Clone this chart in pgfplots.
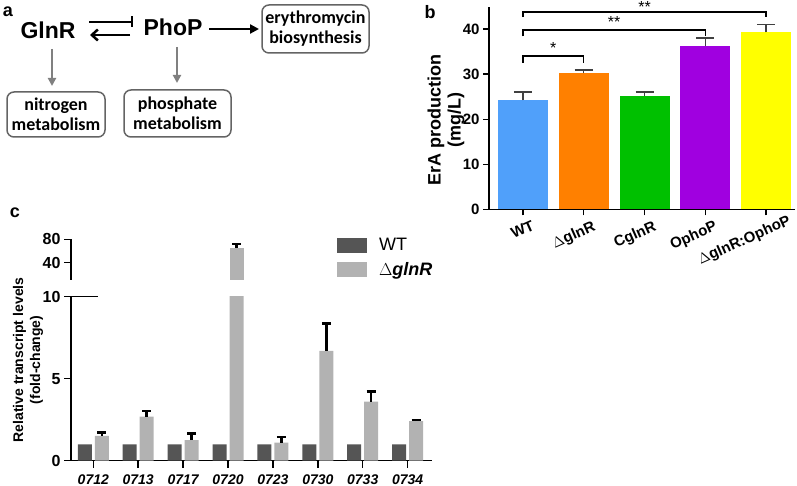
\documentclass[border=0pt]{standalone}
\usepackage{fontspec}
\setmainfont{Liberation Sans}
\newfontfamily\calfont{Carlito}
\usepackage{pgfplots}
\pgfplotsset{compat=1.18}
\usetikzlibrary{arrows.meta}
\definecolor{cWT}{RGB}{80,160,250}
\definecolor{cGl}{RGB}{255,128,0}
\definecolor{cCg}{RGB}{0,192,0}
\definecolor{cOp}{RGB}{160,0,224}
\definecolor{cGO}{RGB}{255,255,0}
\definecolor{cDk}{RGB}{85,85,85}
\definecolor{cLt}{RGB}{178,178,178}
\definecolor{boxc}{RGB}{100,100,100}
\newcommand{\fs}[2]{\fontsize{#1}{#2}\selectfont}
\begin{document}
\begin{tikzpicture}
\useasboundingbox (0,0) rectangle (797pt,486pt);
% ---------------- panel a ----------------
\node[font=\bfseries\fs{18}{20}] at (8pt,474pt) {a};
\node[font=\bfseries\fs{23}{25}] at (48pt,456pt) {GlnR};
\node[font=\bfseries\fs{23}{25}] at (173pt,459pt) {PhoP};
\draw[line width=2.5pt] (89pt,464pt) -- (132pt,464pt);
\draw[line width=2.5pt] (132pt,469.5pt) -- (132pt,458.5pt);
\draw[line width=2.5pt,-{Straight Barb[length=6pt,width=11pt]}] (130pt,451pt) -- (90pt,451pt);
\draw[line width=2.5pt,-{Triangle[length=9pt,width=9pt]}] (209pt,457pt) -- (259pt,457pt);
\draw[black!50,line width=2pt,-{Triangle[length=8pt,width=8pt]}] (52pt,437pt) -- (52pt,400pt);
\draw[black!50,line width=2pt,-{Triangle[length=8pt,width=8pt]}] (177pt,439pt) -- (177pt,403pt);
\draw[rounded corners=7pt,line width=1.5pt,draw=boxc] (262pt,433pt) rectangle (369pt,481pt);
\node[align=center,font=\calfont\bfseries\fs{18}{20}] at (315.5pt,457pt) {erythromycin\\biosynthesis};
\draw[rounded corners=7pt,line width=1.5pt,draw=boxc] (7pt,349pt) rectangle (105pt,394pt);
\node[align=center,font=\calfont\bfseries\fs{18}{20}] at (56pt,371.5pt) {nitrogen\\metabolism};
\draw[rounded corners=7pt,line width=1.5pt,draw=boxc] (124pt,349pt) rectangle (231pt,396pt);
\node[align=center,font=\calfont\bfseries\fs{18}{20}] at (177.5pt,372.5pt) {phosphate\\metabolism};
% ---------------- panel b ----------------
\node[font=\bfseries\fs{18}{20}] at (430pt,474pt) {b};
\node[rotate=90,align=center,font=\bfseries\fs{18}{20}] at (446pt,366pt) {ErA production\\(mg/L)};
\begin{axis}[
  at={(489pt,276.7pt)}, anchor=south west, scale only axis,
  width=306pt, height=202.6pt,
  xmin=-0.557, xmax=4.475, ymin=0, ymax=45,
  axis x line*=bottom, axis y line*=left,
  axis line style={line width=1.5pt},
  tick style={line width=1.5pt,black}, major tick length=6pt, tick align=outside,
  xtick={0,1,2,3,4},
  xticklabels={WT,$\Delta$glnR,CglnR,OphoP,$\Delta$glnR:OphoP\hspace*{-14pt}},
  xticklabel style={font=\bfseries\fs{15}{16},rotate=24,anchor=north east,xshift=9pt,yshift=-4pt},
  ytick={0,10,20,30,40},
  yticklabel style={font=\bfseries\fs{15}{16}},
  /pgf/number format/assume math mode=true,
  ybar, bar width=50pt, clip=false,
  error bars/y dir=plus, error bars/y explicit,
  error bars/error bar style={draw=black!75,line width=1.5pt},
  error bars/error mark options={rotate=90,draw=black!75,line width=1.5pt,mark size=9pt},
]
\addplot[fill=cWT,draw=none,bar shift=0pt] coordinates {(0,24.2) +- (0,1.8)};
\addplot[fill=cGl,draw=none,bar shift=0pt] coordinates {(1,30.2) +- (0,0.7)};
\addplot[fill=cCg,draw=none,bar shift=0pt] coordinates {(2,25.2) +- (0,0.8)};
\addplot[fill=cOp,draw=none,bar shift=0pt] coordinates {(3,36.2) +- (0,1.8)};
\addplot[fill=cGO,draw=none,bar shift=0pt] coordinates {(4,39.3) +- (0,1.7)};
\draw[line width=1.5pt] (axis cs:0,32.6) -- (axis cs:0,34.0) -- (axis cs:1,34.0) -- (axis cs:1,32.6);
\node[font=\fs{16}{16},inner sep=0pt] at (axis cs:0.5,35.9) {*};
\draw[line width=1.5pt] (axis cs:0,38.4) -- (axis cs:0,39.8) -- (axis cs:3,39.8) -- (axis cs:3,38.4);
\node[font=\fs{16}{16},inner sep=0pt] at (axis cs:1.5,41.7) {**};
\draw[line width=1.5pt] (axis cs:0,42.7) -- (axis cs:0,43.8) -- (axis cs:4,43.8) -- (axis cs:4,42.7);
\node[font=\fs{16}{16},inner sep=0pt] at (axis cs:2,45.0) {**};
\end{axis}
% ---------------- panel c ----------------
\node[font=\bfseries\fs{18}{20}] at (15pt,273pt) {c};
\node[rotate=90,align=center,font=\bfseries\fs{14}{17}] at (28pt,126pt) {Relative transcript levels\\(fold-change)};
\begin{axis}[
  at={(71pt,25.3pt)}, anchor=south west, scale only axis,
  width=360.7pt, height=164pt,
  xmin=-0.497, xmax=7.536, ymin=0, ymax=10,
  axis x line*=bottom, axis y line*=left,
  axis line style={line width=1.5pt},
  tick style={line width=1.5pt,black}, major tick length=7pt, tick align=outside,
  xtick={0,1,2,3,4,5,6,7},
  xticklabels={0712,0713,0717,0720,0723,0730,0733,0734},
  xticklabel style={font=\bfseries\itshape\fs{14}{15},yshift=-3pt},
  ytick={0,5,10},
  yticklabel style={font=\bfseries\fs{16}{17}},
  /pgf/number format/assume math mode=true,
  ybar, bar width=14pt,
  legend style={at={(rel axis cs:0.737,1.37)},anchor=north west,draw=none,fill=none,
    font=\fs{18}{20},row sep=6pt,inner sep=0pt},
  legend cell align=left,
]
\addplot[fill=cDk,draw=none,bar shift=-8.5pt,
  legend image code/.code={\fill[cDk] (0pt,-7.5pt) rectangle (30pt,7.5pt);}]
  coordinates {(0,1) (1,1) (2,1) (3,1) (4,1) (5,1) (6,1) (7,1)};
\addlegendentry{\hspace*{10pt}WT}
\addplot[fill=cLt,draw=none,bar shift=8.5pt,
  legend image code/.code={\fill[cLt] (0pt,-7.5pt) rectangle (30pt,7.5pt);},
  error bars/.cd, y dir=plus, y explicit,
  error bar style={draw=black,line width=2.5pt},
  error mark options={rotate=90,draw=black,line width=2.5pt,mark size=4.5pt}]
  coordinates {(0,1.52) +- (0,0.19) (1,2.68) +- (0,0.35) (2,1.26) +- (0,0.41)
    (3,65.6) +- (0,5.9) (4,1.10) +- (0,0.36) (5,6.69) +- (0,1.69)
    (6,3.60) +- (0,0.63) (7,2.42) +- (0,0.06)};
\addlegendentry{\hspace*{10pt}\bfseries$\Delta$\textit{glnR}}
\draw[line width=1.5pt] (rel axis cs:0,1) -- ++(4.5pt,0);
\end{axis}
\begin{axis}[
  at={(71pt,206pt)}, anchor=south west, scale only axis,
  width=360.7pt, height=40.7pt,
  xmin=-0.497, xmax=7.536, ymin=10, ymax=80,
  axis x line=none, axis y line*=left,
  axis line style={line width=1.5pt},
  tick style={line width=1.5pt,black}, major tick length=7pt, tick align=outside,
  ytick={40,80},
  yticklabel style={font=\bfseries\fs{16}{17}},
  /pgf/number format/assume math mode=true,
  ybar, bar width=14pt,
]
\addplot[fill=cLt,draw=none,bar shift=8.5pt,
  error bars/.cd, y dir=plus, y explicit,
  error bar style={draw=black,line width=2.5pt},
  error mark options={rotate=90,draw=black,line width=2.5pt,mark size=4.5pt}]
  coordinates {(3,65.6) +- (0,5.9)};
\draw[line width=1.5pt] (rel axis cs:0,0) ++(-5pt,0) -- ++(10pt,0);
\end{axis}
\end{tikzpicture}
\end{document}
